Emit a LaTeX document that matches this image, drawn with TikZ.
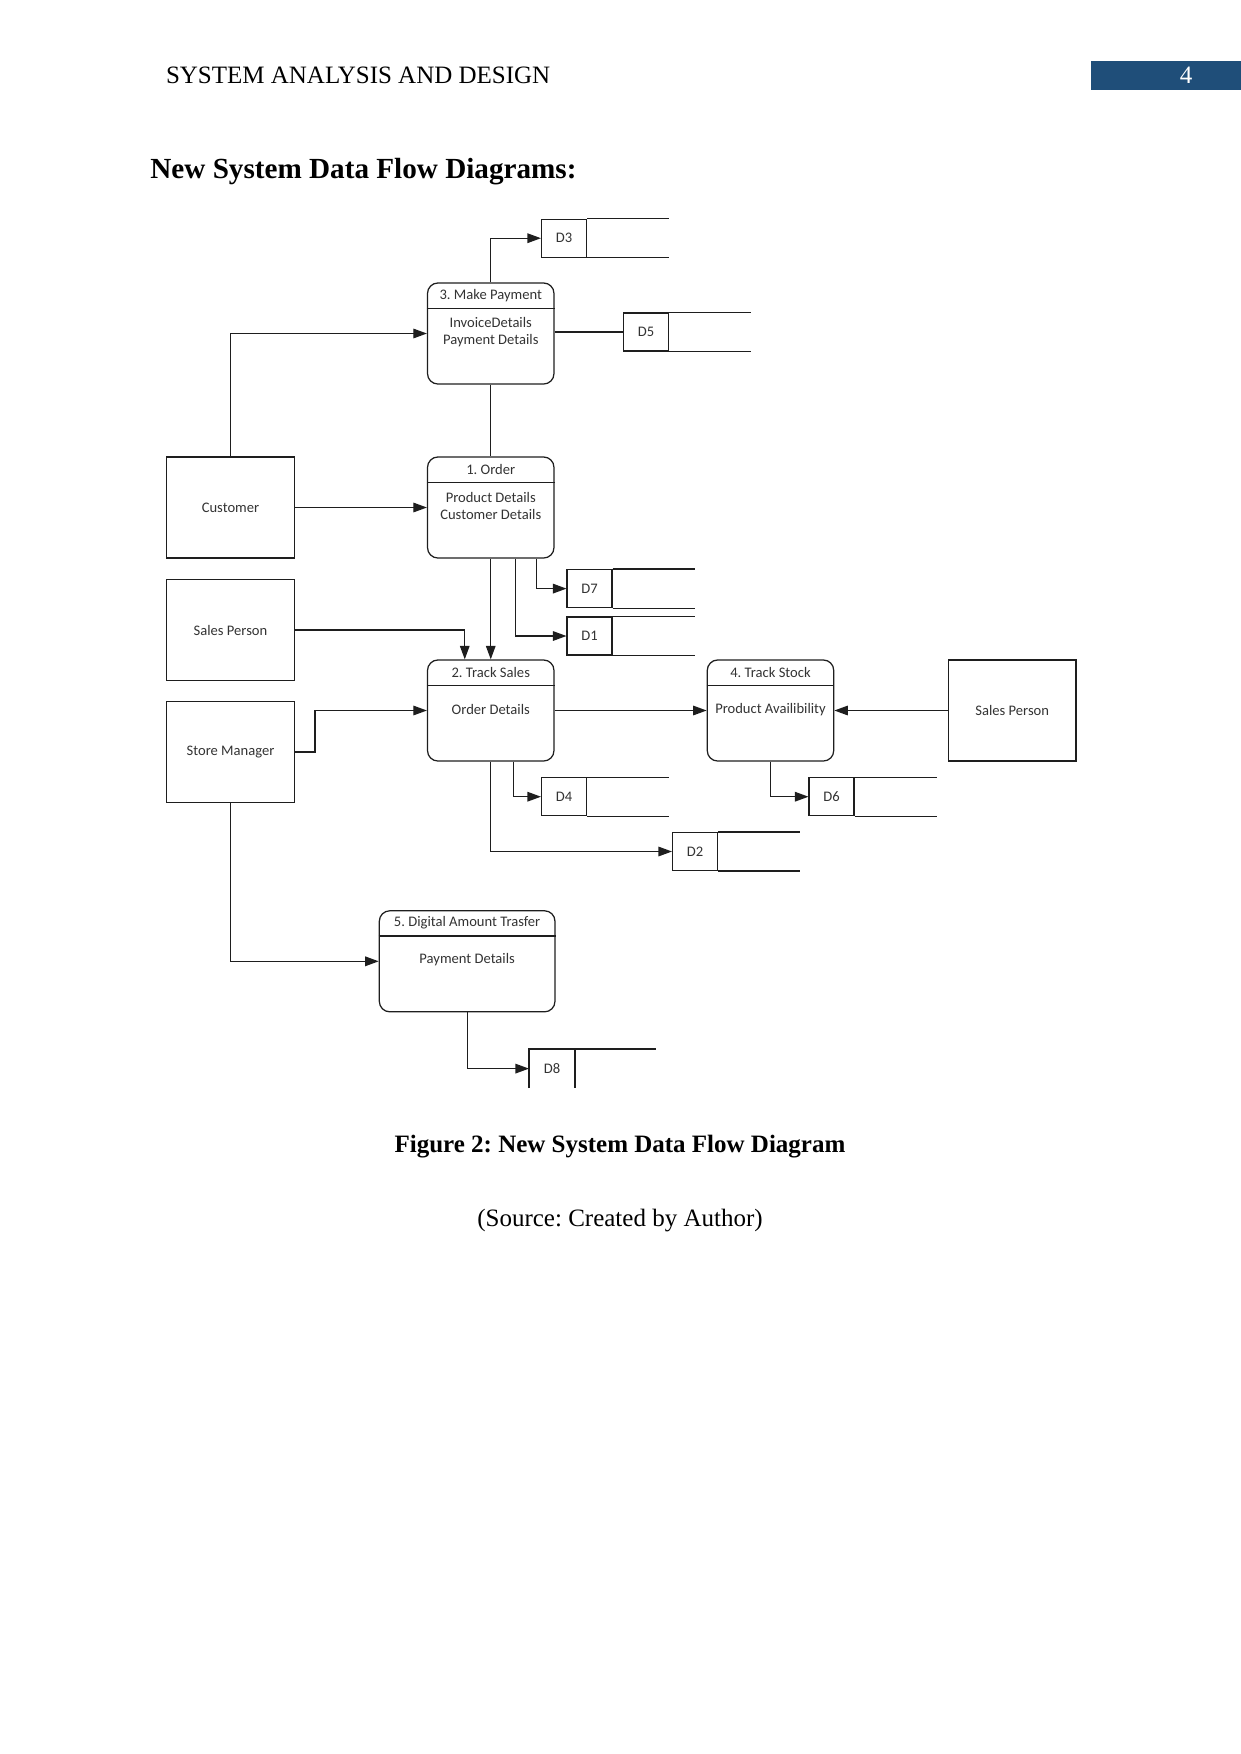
\documentclass[tikz,border=0pt]{standalone}
\usepackage{fontspec}
\setmainfont{Liberation Serif}
\newfontfamily\dfdfont{Carlito}
\usepackage{tikz}
\usetikzlibrary{arrows.meta,positioning,calc}
\frenchspacing
\definecolor{ink}{HTML}{1E1E1E}
\definecolor{dfdtext}{HTML}{333333}
\definecolor{pagebar}{HTML}{1F4E79}
\tikzset{
  arr/.style={-{Triangle[length=6.5pt,width=4.6pt]}, line width=0.6pt, draw=ink},
  flow/.style={line width=0.6pt, draw=ink},
  figbase/.style={
    x=0.48pt, y=-0.48pt,
    line join=miter,
  },
  dfd/.style={font=\dfdfont\fontsize{7}{8.2}\selectfont, text=dfdtext},
  proc/.style={
    draw=ink, line width=0.6pt,
    rounded corners=5pt,
    minimum width=60.7pt, minimum height=48.5pt,
    inner sep=0pt,
  },
  prochead/.style={dfd, minimum height=12pt, inner sep=0pt, anchor=north},
  procbody/.style={dfd, align=center, inner sep=1pt},
  entity/.style={dfd, draw=ink, line width=0.6pt, minimum width=61.2pt, minimum height=48.5pt},
  storeid/.style={dfd, draw=ink, line width=0.6pt, minimum width=21.5pt, minimum height=18.2pt, inner sep=0pt},
  pagetext/.style={font=\fontsize{12}{14}\selectfont, text=black, inner sep=0pt},
}

\begin{document}
\begin{tikzpicture}[figbase]
  \useasboundingbox (0,0) rectangle (1241,1754);

  % page head
  \node[pagetext, anchor=west] (runhead) at (165.6,75) {SYSTEM ANALYSIS AND DESIGN};
  \fill[pagebar] (1091,61) rectangle (1241,89.5);
  \node[pagetext, text=white] (pagenum) at (1186,75) {4};
  \node[pagetext, anchor=west, font=\fontsize{14}{17}\bfseries\selectfont] (heading)
    at (150,171.5) {New System Data Flow Diagrams:};

  % processes
  \node[proc] (p3) at (490.75,333.5) {};
  \node[proc] (p1) at (490.75,507.5) {};
  \node[proc] (p2) at (490.75,710.5) {};
  \node[proc] (p4) at (770.5,710.5) {};
  \node[proc, minimum width=84.3pt] (p5) at (467.15,961.3) {};

  \node[prochead] (p3h) at (p3.north) {3. Make Payment};
  \node[prochead] (p1h) at (p1.north) {1. Order};
  \node[prochead] (p2h) at (p2.north) {2. Track Sales};
  \node[prochead] (p4h) at (p4.north) {4. Track Stock};
  \node[prochead] (p5h) at (p5.north) {5. Digital Amount Trasfer};
  \foreach \p in {p3,p1,p2,p4,p5}
    \draw[flow] (\p.west |- \p h.south) -- (\p.east |- \p h.south);

  \node[procbody] (p3b) at ($(p3h.south)+(0,24)$) {InvoiceDetails\\Payment Details};
  \node[procbody] (p1b) at ($(p1h.south)+(0,24)$) {Product Details\\Customer Details};
  \node[procbody] (p2b) at ($(p2h.south)+(0,24)$) {Order Details};
  \node[procbody] (p4b) at ($(p4h.south)+(0,24)$) {Product Availibility};
  \node[procbody] (p5b) at ($(p5h.south)+(0,24)$) {Payment Details};

  % external entities
  \node[entity] (cust) at (230.5,507.5) {Customer};
  \node[entity] (sp1) at (230.5,630) {Sales Person};
  \node[entity] (sm) at (230.5,752) {Store Manager};
  \node[entity] (sp2) at (1012.2,710.5) {Sales Person};

  % data stores
  \node[storeid] (d3) at (564,238.2) {D3};
  \node[storeid] (d5) at (646,332) {D5};
  \node[storeid] (d7) at (589.5,588.6) {D7};
  \node[storeid] (d1) at (589.5,636) {D1};
  \node[storeid] (d4) at (564,796.7) {D4};
  \node[storeid] (d6) at (831.5,796.7) {D6};
  \node[storeid] (d2) at (695,851.5) {D2};
  \node[storeid, draw=none] (d8) at (552,1068.6) {D8};
  \foreach \s in {d3,d5,d7,d1,d4,d6,d2}
    \draw[flow] (\s.north east) -- ++(82,0) (\s.south east) -- ++(82,0);
  \draw[flow] (d8.south west) -- (d8.north west) -- ++(127,0);
  \draw[flow] (d8.north east) -- (d8.south east);

  % flows
  \draw[arr] (p3.north) |- (d3.west);
  \draw[flow] (d5.west -| p3.east) -- (d5.west);
  \draw[arr] (cust.north) |- (p3.west);
  \draw[flow] (p3.south) -- (p1.north);
  \draw[arr] (cust) -- (p1);
  \draw[arr] (p1) -- (p2);
  \draw[arr] (sp1.east) -| ($(p2.north)+(-26,0)$);
  \draw[arr] ($(p1.south)+(46,0)$) |- (d7.west);
  \draw[arr] ($(p1.south)+(25,0)$) |- (d1.west);
  \draw[arr] (sm.east) -- ++(20,0) |- (p2.west);
  \draw[arr] (p2) -- (p4);
  \draw[arr] (sp2) -- (p4);
  \draw[arr] (p4.south) |- (d6.west);
  \draw[arr] ($(p2.south)+(23,0)$) |- (d4.west);
  \draw[arr] (p2.south) |- (d2.west);
  \draw[arr] (sm.south) |- (p5.west);
  \draw[arr] (p5.south) |- (d8.west);

  % caption
  \node[pagetext, font=\fontsize{12}{14}\bfseries\selectfont] (caption) at (620,1147)
    {Figure 2: New System Data Flow Diagram};
  \node[pagetext] (source) at (620,1221) {(Source: Created by Author)};
\end{tikzpicture}
\end{document}
